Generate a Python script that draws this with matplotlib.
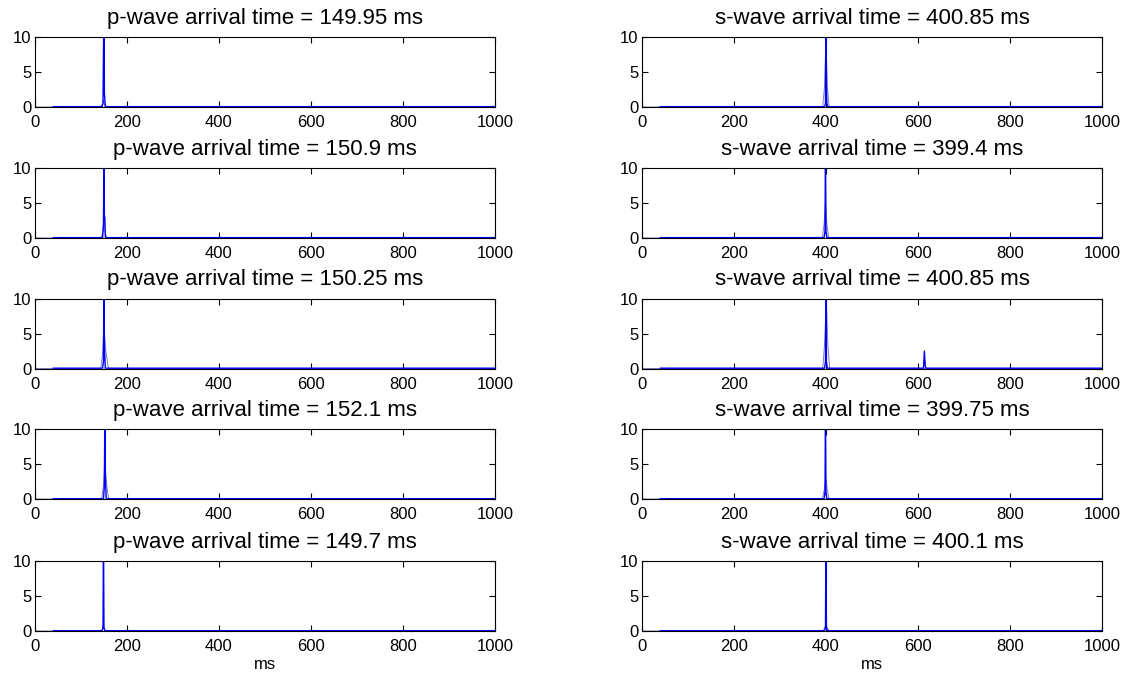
import numpy as np
import matplotlib
matplotlib.use("Agg")
import matplotlib.pyplot as plt

plt.rcParams['font.family'] = ['Liberation Sans', 'DejaVu Sans']

# arrival times shown in the titles
p_times = [149.95, 150.9, 150.25, 152.1, 149.7]
s_times = [400.85, 399.4, 400.85, 399.75, 400.1]

# sharp spike traces (ms, amplitude)
p_spike_x = [
    [40, 146, 148, 149, 150, 151, 153, 1000],
    [40, 147, 149, 150, 151, 152, 153, 154, 1000],
    [40, 147, 149, 150, 151, 153, 1000],
    [40, 149, 151, 152, 153, 155, 1000],
    [40, 146, 148, 149, 150, 152, 1000],
]
p_spike_y = [
    [0.05, 0.05, 0.6, 8, 14, 2, 0.05, 0.05],
    [0.05, 0.05, 2, 14, 3, 3, 0.2, 0.05, 0.05],
    [0.05, 0.05, 1, 14, 3, 0.05, 0.05],
    [0.05, 0.05, 2, 14, 3, 0.05, 0.05],
    [0.05, 0.05, 0.5, 14, 0.5, 0.05, 0.05],
]
s_spike_x = [
    [40, 397, 399, 400, 401, 402, 404, 1000],
    [40, 396, 398, 399, 400, 402, 1000],
    [40, 397, 399, 400, 401, 403, 612, 614, 616, 618, 1000],
    [40, 396, 398, 399, 400, 402, 1000],
    [40, 397, 399, 400, 401, 403, 1000],
]
s_spike_y = [
    [0.05, 0.05, 0.5, 14, 3, 0.5, 0.05, 0.05],
    [0.05, 0.05, 1, 14, 1, 0.05, 0.05],
    [0.05, 0.05, 1, 14, 1, 0.05, 0.05, 2.5, 0.3, 0.05, 0.05],
    [0.05, 0.05, 1, 14, 1, 0.05, 0.05],
    [0.05, 0.05, 0.5, 14, 0.5, 0.05, 0.05],
]

# broader lighter envelope around each arrival
p_env_x = [
    [0, 143, 147, 149, 151, 155, 1000],
    [0, 144, 148, 150, 152, 156, 1000],
    [0, 143, 147, 150, 154, 160, 1000],
    [0, 145, 149, 152, 156, 160, 1000],
    [0, 144, 147, 149, 151, 154, 1000],
]
p_env_y = [
    [0, 0, 0.4, 1.0, 0.4, 0, 0],
    [0, 0, 1.0, 3.0, 1.0, 0, 0],
    [0, 0, 2.0, 6.0, 2.5, 0, 0],
    [0, 0, 2.0, 5.5, 2.0, 0, 0],
    [0, 0, 0.3, 1.0, 0.3, 0, 0],
]
s_env_x = [
    [0, 393, 397, 400, 403, 407, 1000],
    [0, 392, 396, 399, 402, 406, 1000],
    [0, 393, 397, 401, 404, 408, 1000],
    [0, 392, 396, 400, 403, 407, 1000],
    [0, 393, 397, 400, 403, 407, 1000],
]
s_env_y = [
    [0, 0, 3.0, 10.0, 3.0, 0, 0],
    [0, 0, 2.0, 5.0, 2.0, 0, 0],
    [0, 0, 3.5, 10.0, 3.5, 0, 0],
    [0, 0, 1.2, 3.0, 1.2, 0, 0],
    [0, 0, 0.4, 1.0, 0.4, 0, 0],
]

xticks = [0, 200, 400, 600, 800, 1000]
yticks = [0, 5, 10]

fig = plt.figure(figsize=(11.31, 6.85), dpi=100)
lefts = [0.0309, 0.5676]
bottoms = [0.8438, 0.6526, 0.4620, 0.2715, 0.0788]
w, h = 0.4067, 0.1022

fs = 12
cols = [
    ("p", p_times, p_spike_x, p_spike_y, p_env_x, p_env_y),
    ("s", s_times, s_spike_x, s_spike_y, s_env_x, s_env_y),
]
for c, (lab, times, sx, sy, ex, ey) in enumerate(cols):
    for r in range(5):
        ax = fig.add_axes([lefts[c], bottoms[r], w, h])
        ax.plot(ex[r], ey[r], color='#7a7ab8', lw=0.7)
        ax.plot(sx[r], sy[r], color='blue', lw=1.0)
        ax.set_xlim(0, 1000)
        ax.set_ylim(0, 10)
        ax.set_xticks(xticks)
        ax.set_yticks(yticks)
        ax.tick_params(direction='in', top=True, right=True, length=4,
                       labelsize=fs)
        ax.tick_params(axis='x', pad=6)
        ax.tick_params(axis='y', pad=2.5)
        for sp in ax.spines.values():
            sp.set_linewidth(0.8)
        ax.set_title(f"{lab}-wave arrival time = {times[r]:g} ms",
                     fontsize=16, pad=9.5)
        if r == 4:
            ax.set_xlabel("ms", fontsize=fs, labelpad=2)

fig.savefig("out.png", dpi=100)
